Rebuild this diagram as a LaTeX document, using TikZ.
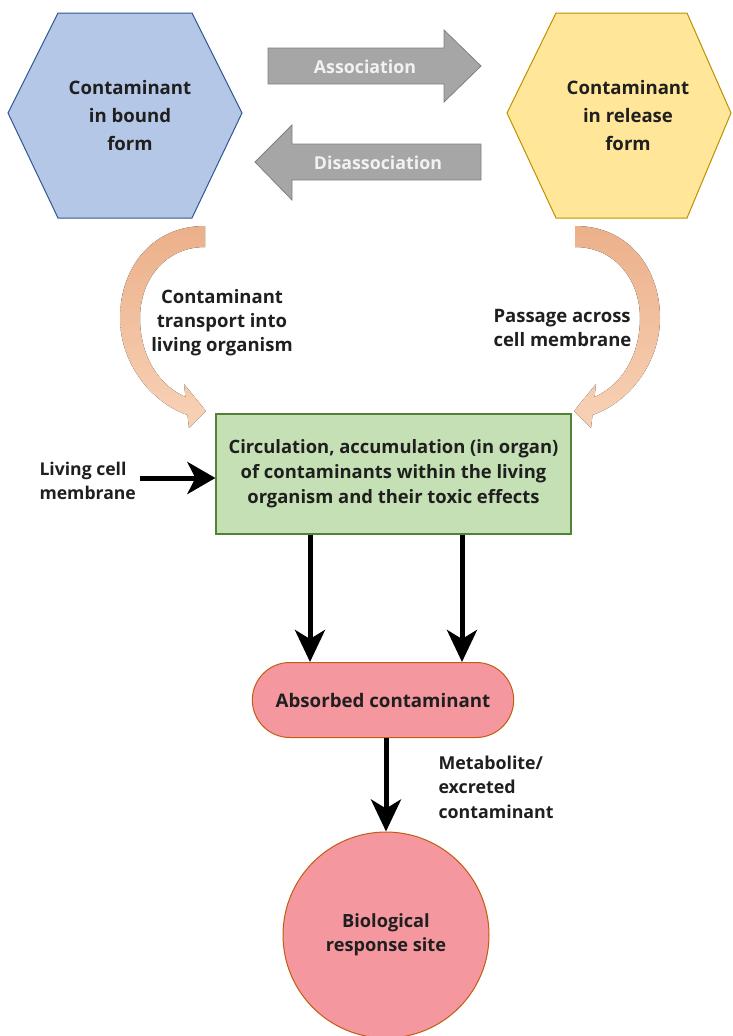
\documentclass[tikz,border=0pt]{standalone}
\usepackage{fontspec}
\setmainfont{Open Sans}
\usetikzlibrary{arrows.meta,shapes.misc}
\definecolor{txt}{HTML}{1F1F1F}
\definecolor{bluefill}{HTML}{B4C7E7}
\definecolor{blueline}{HTML}{2F5597}
\definecolor{yelfill}{HTML}{FFE699}
\definecolor{yelline}{HTML}{BF9000}
\definecolor{grayfill}{HTML}{A6A6A6}
\definecolor{grayline}{HTML}{808080}
\definecolor{greenfill}{HTML}{C5E0B4}
\definecolor{greenline}{HTML}{548235}
\definecolor{pinkfill}{HTML}{F4979E}
\definecolor{pinkline}{HTML}{C55A11}
\definecolor{peachtop}{HTML}{EBB08A}
\definecolor{peachbot}{HTML}{F8D2B6}
\tikzset{
  hextext/.style={align=center,font=\fontsize{18.6}{28}\selectfont\bfseries,text=txt},
  graytext/.style={font=\fontsize{17.8}{22}\selectfont\bfseries,text=white!95!black},
  lbl/.style={font=\fontsize{18.5}{24}\selectfont\bfseries,text=txt},
  graybox/.style={fill=grayfill,draw=grayline,line width=0.8pt},
  peach/.style={top color=peachtop,bottom color=peachbot,draw=none},
  bigarrow/.style={line width=5pt,-{Stealth[length=32pt,width=30pt,inset=9pt]}},
  smallarrow/.style={line width=5pt,-{Stealth[length=28pt,width=32pt,inset=8pt]}},
}
\begin{document}
\begin{tikzpicture}[x=1pt,y=-1pt]
\useasboundingbox (0,0) rectangle (733,1036);
% hexagons
\draw[fill=bluefill,draw=blueline,line width=1pt] (8,113) -- (58,13) -- (192,13) -- (242,113) -- (192,218) -- (58,218) -- cycle;
\node[hextext] (bound) at (130,116) {Contaminant\\in bound\\form};
\draw[fill=yelfill,draw=yelline,line width=1pt] (507,113) -- (556,13) -- (687,13) -- (731,113) -- (687,218) -- (556,218) -- cycle;
\node[hextext] (release) at (628,116) {Contaminant\\in release\\form};
% gray block arrows
\draw[graybox] (268,48) -- (444,48) -- (444,30) -- (481,66) -- (444,102) -- (444,84) -- (268,84) -- cycle;
\node[graytext] (assoc) at (365,67) {Association};
\draw[graybox] (255,162) -- (292,125) -- (292,144) -- (481,144) -- (481,180) -- (292,180) -- (292,200) -- cycle;
\node[graytext] (disassoc) at (378,163) {Disassociation};
% peach curved arrows
\fill[peach] (205,226) .. controls (150,226) and (120,270) .. (120,318)
  .. controls (120,362) and (150,402) .. (187.5,415)
  -- (189,428) -- (206,411) -- (184,384) -- (185.5,397)
  .. controls (158,385) and (140,355) .. (140,318)
  .. controls (140,280) and (165,247) .. (205,247) -- cycle;
\fill[peach] (575,226) .. controls (630,226) and (660,270) .. (660,318)
  .. controls (660,362) and (630,402) .. (592.5,415)
  -- (591,428) -- (574,411) -- (596,384) -- (594.5,397)
  .. controls (622,385) and (640,355) .. (640,318)
  .. controls (640,280) and (615,247) .. (575,247) -- cycle;
\node[lbl,align=center] (transport) at (222,323) {Contaminant\\transport into\\living organism};
\node[lbl,align=left,anchor=west] (passage) at (490,328) {Passage across\\cell membrane};
% green box
\node[draw=greenline,fill=greenfill,line width=1.2pt,minimum width=355pt,minimum height=120pt,align=center,
  font=\fontsize{18.4}{25}\selectfont\bfseries,text=txt] (circ) at (393.5,474)
  {Circulation, accumulation (in organ)\\of contaminants within the living\\organism and their toxic effects};
\node[lbl,align=left,anchor=west,font=\fontsize{17.6}{24}\selectfont\bfseries] (living) at (36,481) {Living cell\\membrane};
\coordinate (lc) at (140,478);
\draw[smallarrow] (lc) -- (lc -| circ.west);
% absorbed
\node[rounded rectangle,draw=pinkline,fill=pinkfill,line width=1pt,minimum width=268pt,minimum height=75pt,
  font=\fontsize{18.7}{24}\selectfont\bfseries,text=txt] (absorbed) at (383,700) {Absorbed contaminant};
\coordinate (d1) at (310,0);
\coordinate (d2) at (462,0);
\draw[bigarrow] (circ.south -| d1) -- (absorbed.north -| d1);
\draw[bigarrow] (circ.south -| d2) -- (absorbed.north -| d2);
% biological
\node[circle,draw=pinkline,fill=pinkfill,line width=1pt,minimum size=206pt,align=center,
  font=\fontsize{18.2}{24}\selectfont\bfseries,text=txt] (bio) at (386,935) {Biological\\response site};
\coordinate (d3) at (386,0);
\draw[bigarrow] (absorbed.south -| d3) -- (bio.north -| d3);
\node[lbl,align=left,anchor=north west,font=\fontsize{17.8}{24.5}\selectfont\bfseries] (metab) at (435,752) {Metabolite/\\excreted\\contaminant};
\end{tikzpicture}
\end{document}
